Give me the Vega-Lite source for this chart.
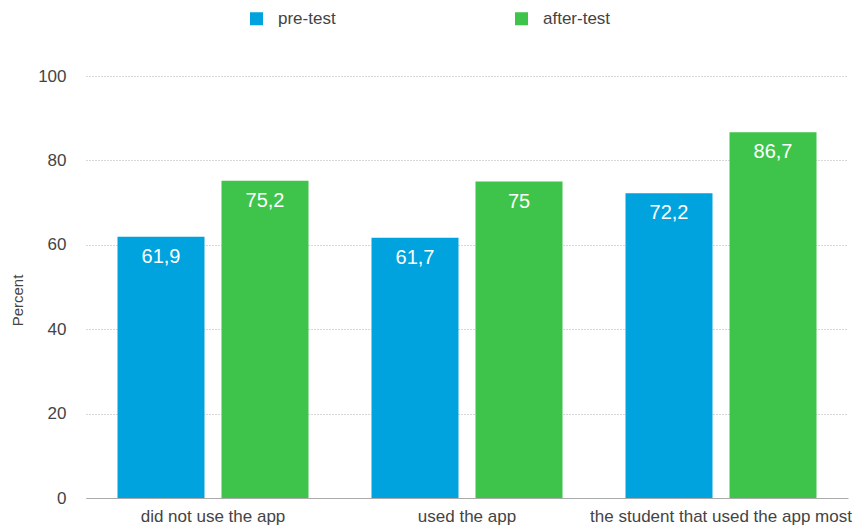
{
  "$schema": "https://vega.github.io/schema/vega-lite/v6.json",
  "width": 762,
  "height": 422,
  "autosize": {"type": "none"},
  "padding": {"left": 86, "top": 76, "right": 8, "bottom": 30},
  "background": "white",
  "data": {
    "values": [
      {"group": "did not use the app", "test": "pre-test", "value": 61.9, "label": "61,9"},
      {"group": "did not use the app", "test": "after-test", "value": 75.2, "label": "75,2"},
      {"group": "used the app", "test": "pre-test", "value": 61.7, "label": "61,7"},
      {"group": "used the app", "test": "after-test", "value": 75, "label": "75"},
      {"group": "the student that used the app most", "test": "pre-test", "value": 72.2, "label": "72,2"},
      {"group": "the student that used the app most", "test": "after-test", "value": 86.7, "label": "86,7"}
    ]
  },
  "encoding": {
    "x": {
      "field": "group",
      "type": "nominal",
      "sort": null,
      "scale": {"paddingInner": 0.248, "paddingOuter": 0.124},
      "axis": {
        "title": null,
        "labelAngle": 0,
        "labelFontSize": 17,
        "labelColor": "#444",
        "labelFont": "Liberation Sans",
        "labelPadding": 10,
        "ticks": false,
        "domainColor": "#aaaaaa",
        "labelLimit": 400
      }
    },
    "xOffset": {
      "field": "test",
      "type": "nominal",
      "sort": ["pre-test", "after-test"],
      "scale": {"paddingInner": 0.1635, "paddingOuter": 0}
    },
    "y": {
      "field": "value",
      "type": "quantitative",
      "scale": {"domain": [0, 100]},
      "axis": {
        "title": "Percent",
        "titleFontSize": 15,
        "titleFontWeight": "normal",
        "titleColor": "#444",
        "titleFont": "Liberation Sans",
        "titleAngle": -90,
        "titleX": -69,
        "titleY": 224,
        "titleAlign": "center",
        "titleBaseline": "middle",
        "values": [0, 20, 40, 60, 80, 100],
        "labelFontSize": 17,
        "labelColor": "#444",
        "labelFont": "Liberation Sans",
        "labelPadding": 20,
        "ticks": false,
        "domain": false,
        "grid": true,
        "gridDash": [1, 2],
        "gridColor": "#b0b0b0"
      }
    }
  },
  "layer": [
    {
      "mark": {"type": "bar"},
      "encoding": {
        "color": {
          "field": "test",
          "type": "nominal",
          "scale": {"domain": ["pre-test", "after-test"], "range": ["#00A3DD", "#3EC44A"]},
          "legend": {
            "title": null,
            "orient": "none",
            "legendX": 162,
            "legendY": -66,
            "direction": "horizontal",
            "symbolType": "square",
            "symbolSize": 169,
            "symbolStrokeWidth": 0,
            "symbolOpacity": 1,
            "labelFontSize": 17,
            "labelColor": "#444",
            "labelFont": "Liberation Sans",
            "labelOffset": 13,
            "columnPadding": 177
          }
        }
      }
    },
    {
      "mark": {"type": "text", "baseline": "top", "dy": 10, "fontSize": 20, "color": "white", "font": "Liberation Sans"},
      "encoding": {
        "text": {"field": "label"}
      }
    }
  ],
  "config": {"view": {"stroke": null}}
}
